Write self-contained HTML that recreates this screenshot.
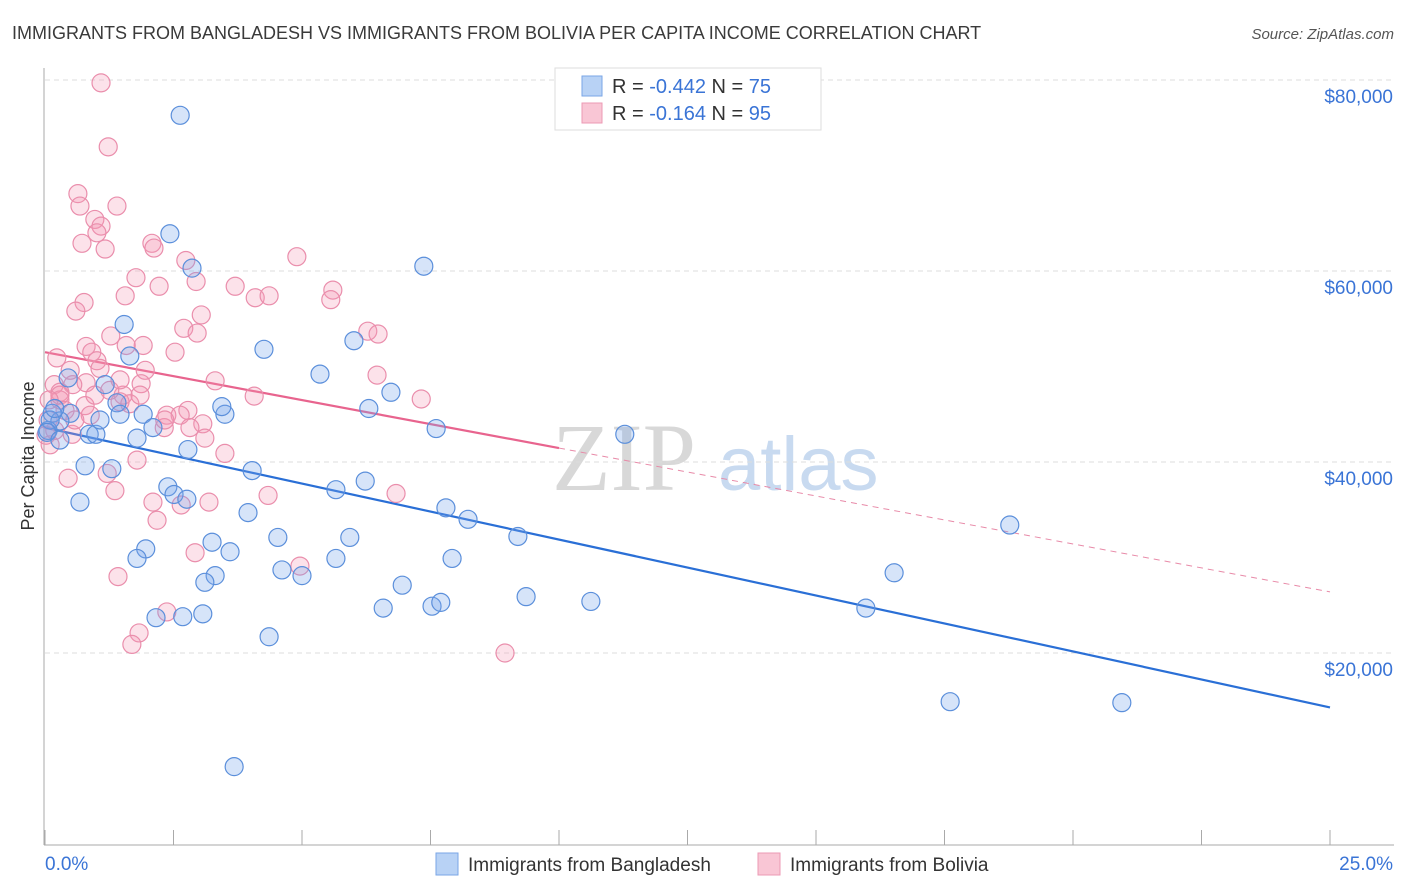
<!DOCTYPE html>
<html><head><meta charset="utf-8"><style>
body{margin:0;background:#fff;font-family:"Liberation Sans",sans-serif;}
svg{display:block}
</style></head><body>
<svg id="chart" width="1406" height="892" xmlns="http://www.w3.org/2000/svg">
<text x="12" y="39" font-size="18" fill="#3a3a3a">IMMIGRANTS FROM BANGLADESH VS IMMIGRANTS FROM BOLIVIA PER CAPITA INCOME CORRELATION CHART</text>
<text x="1394" y="39" font-size="15" fill="#555" text-anchor="end" font-style="italic">Source: ZipAtlas.com</text>
<text transform="translate(34,456) rotate(-90)" font-size="18" fill="#333" text-anchor="middle">Per Capita Income</text>
<g>
<text x="552" y="490" font-size="96" fill="#d8d8d8" font-family="Liberation Serif,serif">ZIP</text>
<text x="718" y="490" font-size="76" fill="#c8daf0">atlas</text>
</g>
<g id="grid"></g>
<g id="axes"></g>
<g id="lines"></g>
<g id="points"></g>
<g>
<rect x="555" y="68" width="266" height="62" fill="#fff" stroke="#ddd"/>
<rect x="582" y="76" width="20" height="20" fill="#b8d2f5" stroke="#7aa6e6"/>
<rect x="582" y="103" width="20" height="20" fill="#f9c6d5" stroke="#ec9ab4"/>
<text x="612" y="93" font-size="20" fill="#333">R = <tspan fill="#3a74d6">-0.442</tspan>   N = <tspan fill="#3a74d6">75</tspan></text>
<text x="612" y="120" font-size="20" fill="#333">R =  <tspan fill="#3a74d6">-0.164</tspan>   N = <tspan fill="#3a74d6">95</tspan></text>
</g>
<g>
<rect x="436" y="853" width="22" height="22" fill="#b8d2f5" stroke="#7aa6e6"/>
<text x="468" y="871" font-size="19" fill="#333">Immigrants from Bangladesh</text>
<rect x="758" y="853" width="22" height="22" fill="#f9c6d5" stroke="#ec9ab4"/>
<text x="790" y="871" font-size="19" fill="#333">Immigrants from Bolivia</text>
</g>
</svg>
<script>
const yTicks=[20000,40000,60000,80000];
const yTickLabels=["$20,000","$40,000","$60,000","$80,000"];
const xTicks=[0,2.5,5,7.5,10,12.5,15,17.5,20,22.5,25];
const xEndLabels=["0.0%","25.0%"];
const blueX=[2.63,2.43,2.86,7.37,1.54,4.26,6.01,1.65,5.35,1.17,6.73,0.45,1.40,1.91,3.50,6.30,3.44,1.46,0.14,0.49,0.29,7.61,2.10,0.86,0.99,1.79,11.28,2.78,0.78,1.30,4.03,6.23,2.39,5.66,2.51,2.76,0.68,3.95,7.80,8.23,4.53,5.93,9.20,1.96,3.25,3.60,1.79,18.77,5.66,7.92,4.61,3.31,5.00,3.11,6.95,16.52,9.36,10.62,6.58,7.53,7.70,15.97,2.16,2.68,3.07,4.36,17.61,20.95,3.68,0.06,0.10,0.19,0.04,1.07,0.29];
const blueY=[76.3,63.9,60.3,60.5,54.4,51.8,52.7,51.1,49.2,48.1,47.3,48.8,46.2,45.0,45.0,45.6,45.8,45.0,45.1,45.1,44.3,43.5,43.6,42.9,42.9,42.5,42.9,41.3,39.6,39.3,39.1,38.0,37.4,37.1,36.6,36.1,35.8,34.7,35.2,34.0,32.1,32.1,32.2,30.9,31.6,30.6,29.9,33.4,29.9,29.9,28.7,28.1,28.1,27.4,27.1,28.4,25.9,25.4,24.7,24.9,25.3,24.7,23.7,23.8,24.1,21.7,14.9,14.8,8.1,43.3,44.4,45.6,43.1,44.4,42.3];
const pinkX=[1.09,1.23,0.64,0.68,1.40,0.97,1.09,1.01,0.72,2.08,2.12,1.17,2.74,4.90,2.94,1.77,3.70,2.22,5.60,4.09,4.36,5.56,1.56,0.76,0.60,3.04,2.70,2.96,1.28,6.28,6.48,1.91,0.80,1.58,0.91,2.53,0.23,1.01,1.95,6.46,1.07,0.80,3.31,0.54,0.18,1.87,0.29,4.07,1.52,7.32,0.29,1.46,1.65,2.78,2.37,2.63,0.78,0.06,3.07,0.19,2.82,0.53,2.32,3.11,0.02,3.50,1.79,1.21,0.45,2.10,1.36,4.34,6.83,2.65,2.18,3.19,1.42,2.92,4.96,1.83,1.69,2.37,8.95,0.29,0.10,0.08,0.39,0.88,1.26,0.58,1.46,0.97,0.49,1.85,2.33];
const pinkY=[79.7,73.0,68.1,66.8,66.8,65.4,64.7,64.0,62.9,62.9,62.4,62.3,61.1,61.5,58.9,59.3,58.4,58.4,58.0,57.2,57.4,57.0,57.4,56.7,55.8,55.4,54.0,53.5,53.2,53.7,53.4,52.2,52.1,52.2,51.5,51.5,50.9,50.6,49.6,49.1,49.8,48.3,48.5,48.1,48.1,48.2,47.3,46.9,47.0,46.6,46.5,46.3,46.1,45.4,44.9,44.9,45.9,44.4,44.0,43.3,43.6,42.9,43.6,42.5,42.8,40.9,40.2,38.8,38.3,35.8,37.0,36.5,36.7,35.5,33.9,35.8,28.0,30.5,29.1,22.1,20.9,24.3,20.0,47.0,41.8,46.5,45.4,44.9,47.5,44.4,48.6,47.0,49.6,47.0,44.4];
const blueTrend=[[0,43.6],[25,14.3]];
const pinkTrend=[[0,51.5],[25,26.4]];
const pinkSolidEnd=[10];

const NS="http://www.w3.org/2000/svg";
function sx(v){return 45+v/25*1285;}
function sy(v){return 844-v/20000*191;}
function mk(tag,attrs,parent){const e=document.createElementNS(NS,tag);for(const k in attrs)e.setAttribute(k,attrs[k]);parent.appendChild(e);return e;}
const grid=document.getElementById('grid'),axes=document.getElementById('axes'),lines=document.getElementById('lines'),pts=document.getElementById('points');
yTicks.forEach((t,i)=>{
 const l=mk('line',{x1:45,x2:1394,y1:sy(t),y2:sy(t),stroke:'#ddd','stroke-dasharray':'5,4'},grid);
 
 
 const tx=mk('text',{x:1393,y:sy(t)+23,'font-size':19,fill:'#3a74d6','text-anchor':'end'},axes);
 tx.textContent=yTickLabels[i];
 
 
});
const ya=mk('line',{x1:44,x2:44,y1:68,y2:845,stroke:'#aaa'},axes);


const xa=mk('line',{x1:44,x2:1394,y1:845,y2:845,stroke:'#aaa'},axes);


xTicks.forEach(t=>{
 const l=mk('line',{x1:sx(t),x2:sx(t),y1:830,y2:845,stroke:'#aaa'},axes);
 
 
});
[[0,'start',45],[1,'end',1393]].forEach(([i,a,x])=>{
 const tx=mk('text',{x:x,y:870,'font-size':19,fill:'#3a74d6','text-anchor':a},axes);
 tx.textContent=xEndLabels[i];
 
 
});
function drawPts(X,Y,fill,stroke,name){
 X.forEach((x,i)=>{
  const c=mk('circle',{cx:sx(x),cy:sy(Y[i]*1000),r:9,fill:fill,stroke:stroke,'stroke-width':1.2},pts);
  
  
 });
}
drawPts(pinkX,pinkY,'rgba(244,150,178,0.28)','#ea8eac','bolivia-point');
drawPts(blueX,blueY,'rgba(120,165,235,0.3)','#5b8fdb','bangladesh-point');
function ty(tr,x){return tr[0][1]+(tr[1][1]-tr[0][1])*(x-tr[0][0])/(tr[1][0]-tr[0][0]);}
const bl=mk('line',{x1:sx(0),y1:sy(ty(blueTrend,0)*1000),x2:sx(25),y2:sy(ty(blueTrend,25)*1000),stroke:'#2a6fd6','stroke-width':2.2},lines);


const pe=pinkSolidEnd[0];
const pl=mk('line',{x1:sx(0),y1:sy(ty(pinkTrend,0)*1000),x2:sx(pe),y2:sy(ty(pinkTrend,pe)*1000),stroke:'#e8648e','stroke-width':2.2},lines);


const pd=mk('line',{x1:sx(pe),y1:sy(ty(pinkTrend,pe)*1000),x2:sx(25),y2:sy(ty(pinkTrend,25)*1000),stroke:'#e88aa8','stroke-width':1,'stroke-dasharray':'6,5'},lines);


</script>
</body></html>
